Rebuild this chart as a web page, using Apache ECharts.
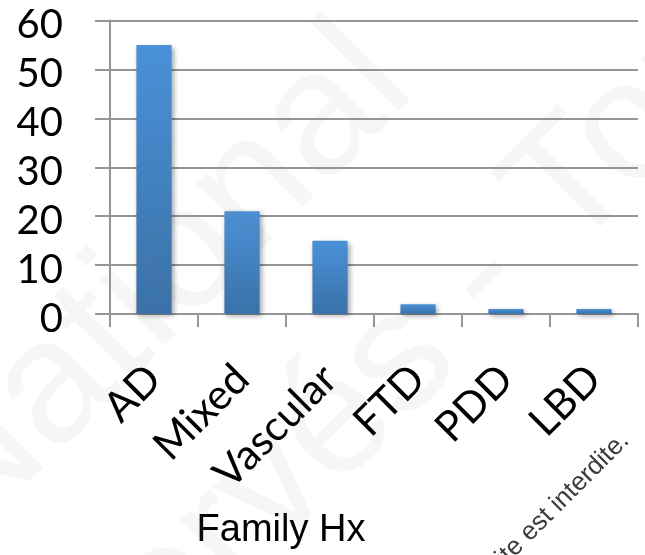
<!DOCTYPE html>
<html>
<head>
<meta charset="utf-8">
<script src="https://cdn.jsdelivr.net/npm/echarts@6/dist/echarts.min.js"></script>
<style>
  html, body { margin: 0; padding: 0; background: #ffffff; }
  #chart { width: 645px; height: 555px; }
</style>
</head>
<body>
<div id="chart"></div>
<script>
// Dementia type reported in family history
const categories = ['AD', 'Mixed', 'Vascular', 'FTD', 'PDD', 'LBD'];
const counts = [55, 21, 15, 2, 1, 1];
const axisName = 'Family Hx';
const yMin = 0, yMax = 60, yStep = 10;

// Rights notice printed diagonally across the figure
const noticeLine1 = 'National';
const noticeLine2a = 'réservés - ';
const noticeLine2b = 'Toute reproduction';
const noticeSmall = 'Toute reproduction sans autorisation écrite est interdite.';

const chart = echarts.init(document.getElementById('chart'), null, { renderer: 'canvas' });
const ROT = Math.PI / 4;
const gridColor = '#969696';
const faint = 'rgba(120,120,120,0.065)';

function diagText(text, x, y, fs, color, align) {
  return {
    type: 'text',
    x: x, y: y,
    rotation: ROT,
    z: 100,
    silent: true,
    style: {
      text: text,
      x: 0, y: -0.33 * fs,
      align: align,
      verticalAlign: 'middle',
      fontSize: fs,
      fontFamily: '"Liberation Sans", Arial, sans-serif',
      fill: color
    }
  };
}

chart.setOption({
  animation: false,
  backgroundColor: '#ffffff',
  grid: { left: 110, right: 7, top: 20.5, bottom: 238, containLabel: false },
  xAxis: {
    type: 'category',
    data: categories,
    boundaryGap: true,
    axisLine: { show: true, lineStyle: { color: gridColor, width: 2 } },
    axisTick: { show: true, length: 13, alignWithLabel: false, lineStyle: { color: gridColor, width: 2 } },
    axisLabel: {
      rotate: 45,
      margin: 58,
      fontFamily: 'Lato, "Open Sans", sans-serif',
      fontSize: 42,
      color: '#000000'
    },
    name: axisName,
    nameLocation: 'middle',
    nameGap: 198,
    nameTextStyle: {
      fontFamily: '"Liberation Sans", Arial, sans-serif',
      fontSize: 38,
      color: '#000000',
      padding: [0, 186, 0, 0]
    }
  },
  yAxis: {
    type: 'value',
    min: yMin, max: yMax, interval: yStep,
    axisLine: { show: true, lineStyle: { color: gridColor, width: 2 } },
    axisTick: { show: true, inside: false, length: 15, lineStyle: { color: gridColor, width: 2 } },
    splitLine: { show: true, lineStyle: { color: gridColor, width: 2 } },
    axisLabel: {
      margin: 47,
      formatter: function (v) { return '{n|' + v + '}'; },
      rich: {
        n: {
          fontFamily: 'Lato, "Open Sans", sans-serif',
          fontSize: 40,
          color: '#000000',
          padding: [10, 0, 0, 0]
        }
      }
    }
  },
  series: [{
    type: 'bar',
    data: counts,
    barWidth: '40%',
    itemStyle: {
      color: new echarts.graphic.LinearGradient(0, 0, 0, 1, [
        { offset: 0, color: '#4a91d8' },
        { offset: 1, color: '#3a71a9' }
      ]),
      shadowBlur: 5,
      shadowColor: 'rgba(0,0,0,0.35)',
      shadowOffsetX: 2,
      shadowOffsetY: 2
    }
  }],
  graphic: [
    diagText(noticeLine1, -29, 553, 175, faint, 'left'),
    diagText(noticeLine2a, 576, 264, 170, faint, 'right'),
    diagText(noticeLine2b, 576, 264, 170, faint, 'left'),
    diagText(noticeSmall, 631, 443, 26, '#3c3c3c', 'right')
  ]
});
</script>
</body>
</html>
